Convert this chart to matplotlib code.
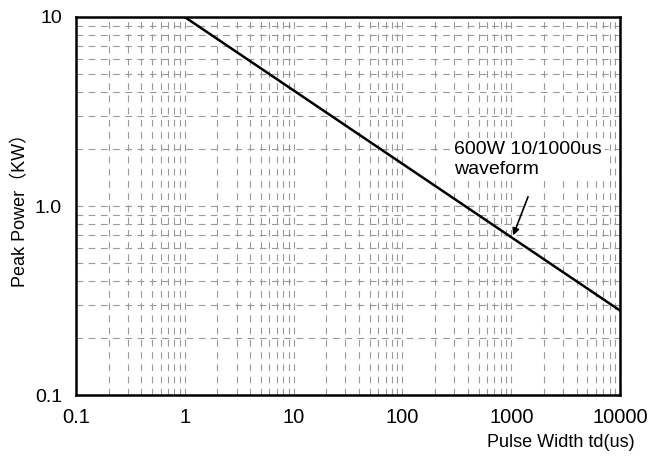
import matplotlib
matplotlib.use('Agg')
import matplotlib.pyplot as plt
from matplotlib.ticker import LogLocator, FixedLocator, NullFormatter

plt.rcParams['font.family'] = ['Liberation Sans', 'Noto Sans CJK SC', 'DejaVu Sans']

# pulse width (us) vs peak power (kW)
pulse_width = [1, 10000]
peak_power = [10, 0.28]
x_ticks = [0.1, 1, 10, 100, 1000, 10000]
x_labels = ['0.1', '1', '10', '100', '1000', '10000']
y_ticks = [0.1, 1.0, 10]
y_labels = ['0.1', '1.0', '10']

fig = plt.figure(figsize=(6.48, 4.59), dpi=100)
ax = fig.add_axes([0.117, 0.139, 0.84, 0.824])

ax.plot(pulse_width, peak_power, color='black', lw=1.8)
ax.set_xscale('log')
ax.set_yscale('log')
ax.set_xlim(0.1, 10000)
ax.set_ylim(0.1, 10)

ax.xaxis.set_major_locator(FixedLocator(x_ticks))
ax.set_xticklabels(x_labels)
ax.yaxis.set_major_locator(FixedLocator(y_ticks))
ax.set_yticklabels(y_labels)
ax.xaxis.set_minor_locator(LogLocator(base=10, subs=range(2, 10), numticks=20))
ax.yaxis.set_minor_locator(LogLocator(base=10, subs=range(2, 10), numticks=20))
ax.xaxis.set_minor_formatter(NullFormatter())
ax.yaxis.set_minor_formatter(NullFormatter())
ax.tick_params(which='both', length=0)
ax.tick_params(axis='x', labelsize=14.5, pad=9)
ax.tick_params(axis='y', labelsize=14, pad=10)

ax.grid(which='both', color='#999999', ls=(0, (6, 5)), lw=0.8)
for s in ax.spines.values():
    s.set_linewidth(1.8)

ax.set_ylabel('Peak Power（KW）', fontsize=13, labelpad=4)
fig.text(0.98, 0.018, 'Pulse Width td(us)', ha='right', va='bottom', fontsize=13)

ax.text(298, 2.21, '600W 10/1000us\nwaveform', fontsize=14, ha='left', va='top',
        linespacing=1.2, bbox=dict(fc='white', ec='none', pad=2))
ax.annotate('', xy=(1040, 0.70), xytext=(1426, 1.12),
            arrowprops=dict(arrowstyle='-|>', color='black', lw=1.2,
                            shrinkA=0, shrinkB=0))

fig.savefig('out.png', dpi=100)
